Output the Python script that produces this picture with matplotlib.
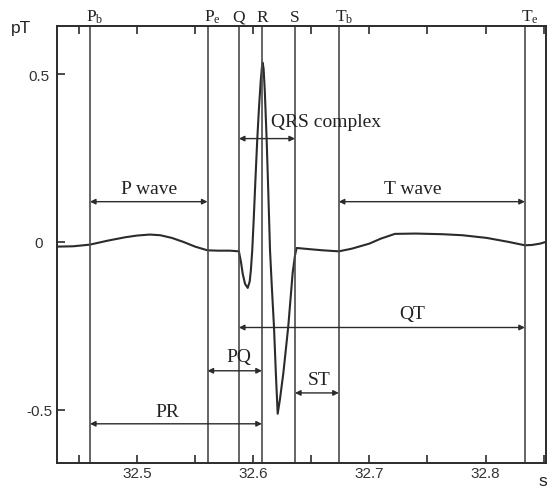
import matplotlib.pyplot as plt
from matplotlib.ticker import MultipleLocator
import matplotlib.transforms as mtransforms

plt.rcParams['font.family'] = ['Liberation Sans', 'DejaVu Sans']
plt.rcParams['mathtext.fontset'] = 'custom'
plt.rcParams['mathtext.rm'] = 'Liberation Serif'

# MCG trace (time in s, field in pT)
t = [32.4307, 32.4450, 32.4595, 32.4750, 32.4900, 32.5000, 32.5110, 32.5200,
     32.5300, 32.5400, 32.5500, 32.5607, 32.5700, 32.5800, 32.5877, 32.5895,
     32.5910, 32.5930, 32.5953, 32.5970, 32.5980, 32.5992, 32.6005, 32.6020,
     32.6035, 32.6050, 32.6065, 32.6075, 32.6082, 32.6090, 32.6100, 32.6116,
     32.6130, 32.6145, 32.6160, 32.6179, 32.6195, 32.6211, 32.6230, 32.6260,
     32.6302, 32.6340, 32.6360, 32.6374, 32.6500, 32.6600, 32.6737, 32.6850,
     32.7000, 32.7100, 32.7220, 32.7400, 32.7630, 32.7800, 32.8010, 32.8200,
     32.8339, 32.8400, 32.8470, 32.8518]
b = [-0.014, -0.013, -0.008, 0.004, 0.014, 0.019, 0.022, 0.020,
     0.012, 0.000, -0.014, -0.025, -0.026, -0.026, -0.028, -0.060,
     -0.095, -0.125, -0.137, -0.118, -0.085, -0.025, 0.070, 0.190,
     0.305, 0.400, 0.480, 0.520, 0.534, 0.515, 0.450, 0.305,
     0.150, -0.025, -0.130, -0.252, -0.390, -0.512, -0.470, -0.390,
     -0.252, -0.092, -0.040, -0.018, -0.022, -0.025, -0.028, -0.020,
     -0.005, 0.010, 0.024, 0.025, 0.023, 0.020, 0.012, 0.000,
     -0.010, -0.009, -0.005, 0.000]

# fiducial points
marks = ['Pb', 'Pe', 'Q', 'R', 'S', 'Tb', 'Te']
mark_t = [32.4595, 32.5607, 32.5877, 32.6075, 32.6360, 32.6737, 32.8339]
mark_txt = [r'$\mathrm{P_b}$', r'$\mathrm{P_e}$', 'Q', 'R', 'S',
            r'$\mathrm{T_b}$', r'$\mathrm{T_e}$']

# intervals
iv_names = ['QRS complex', 'P wave', 'T wave', 'QT', 'PQ', 'ST', 'PR']
iv_from = ['Q', 'Pb', 'Tb', 'Q', 'Pe', 'S', 'Pb']
iv_to = ['S', 'Pe', 'Te', 'Te', 'R', 'Tb', 'R']
iv_level = [0.308, 0.12, 0.12, -0.255, -0.384, -0.450, -0.542]

fig = plt.figure(figsize=(5.47, 4.89), dpi=100)
ax = fig.add_axes([0.1033, 0.0517, 0.8943, 0.8927])

dark = '#2b2b2b'
ax.plot(t, b, color=dark, lw=1.5)

for x in mark_t:
    ax.axvline(x, color='#4a4a4a', lw=1.2)

trans = mtransforms.blended_transform_factory(ax.transData, ax.transAxes)
for name, x, s in zip(marks, mark_t, mark_txt):
    if len(name) > 1:
        ax.annotate(s, (x, 1.012), xycoords=trans, xytext=(-2.5, 0),
                    textcoords='offset points', ha='left', va='baseline',
                    fontsize=12.5, color='#222222')
    else:
        ax.text(x, 1.012, s, transform=trans, ha='center', va='baseline',
                fontsize=12.5, family='Liberation Serif', color='#222222')

pos = dict(zip(marks, mark_t))
for f, e, y in zip(iv_from, iv_to, iv_level):
    ax.annotate('', xy=(pos[e], y), xytext=(pos[f], y),
                arrowprops=dict(arrowstyle='<|-|>', color=dark, lw=1.0,
                                mutation_scale=8, shrinkA=0, shrinkB=0))

# interval labels
lab_x = [32.6151, 32.5101, 32.7375, 32.7367, 32.5876, 32.6565, 32.5258]
lab_y = [0.359, 0.158, 0.158, -0.212, -0.341, -0.410, -0.504]
for name, x, y in zip(iv_names, lab_x, lab_y):
    ax.text(x, y, name, ha='left' if name == 'QRS complex' else 'center',
            va='center', fontsize=14, family='Liberation Serif',
            color='#222222')

ax.set_xlim(32.4307, 32.8518)
ax.set_ylim(-0.658, 0.643)
ax.set_xticks([32.5, 32.6, 32.7, 32.8])
ax.xaxis.set_minor_locator(MultipleLocator(0.05))
ax.set_yticks([-0.5, 0, 0.5])
ax.set_yticklabels(['-0.5', '0', '0.5'])
for lab in ax.get_yticklabels():
    lab.set_ha('center')

ax.tick_params(axis='x', which='both', direction='in', top=True, length=6,
               width=1.2, color=dark, pad=2.2, labelsize=11,
               labelcolor='#333333')
ax.tick_params(axis='y', direction='in', length=6, width=1.2, color=dark,
               pad=12.6, labelsize=11, labelcolor='#333333')
for sp in ax.spines.values():
    sp.set_color(dark)
    sp.set_linewidth(1.4)

fig.text(21 / 547, 1 - 33 / 489, 'pT', ha='center', va='baseline',
         fontsize=12.5, color='#222222')
fig.text(538 / 547, 1 - 486 / 489, 's', ha='left', va='baseline',
         fontsize=12.5, color='#222222')

fig.savefig('out.png', dpi=100)
